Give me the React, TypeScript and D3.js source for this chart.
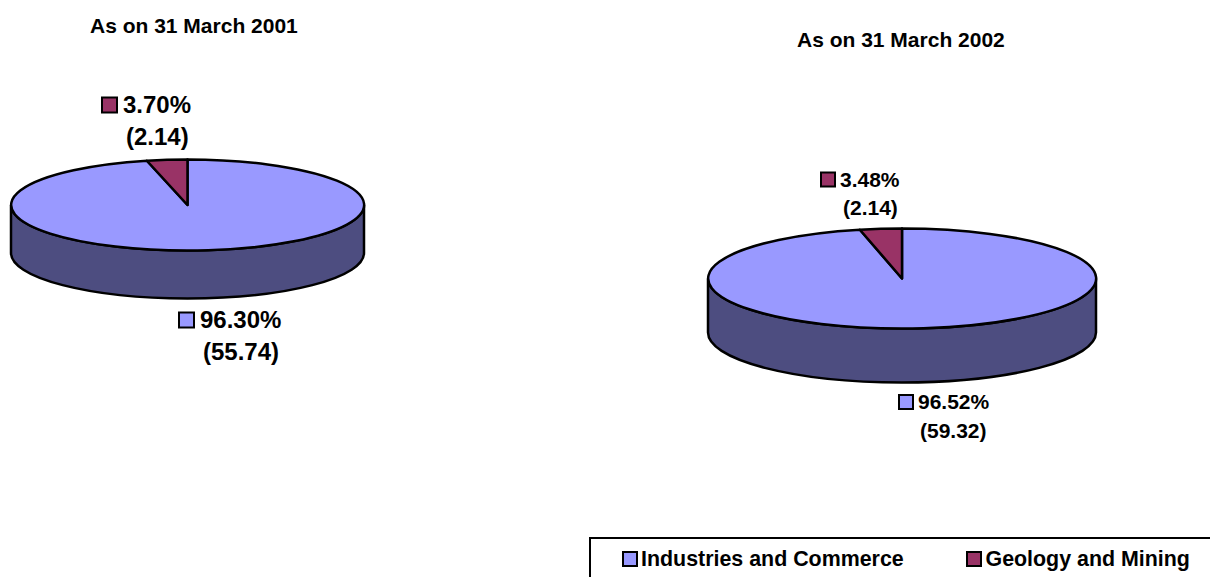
import * as d3 from "d3";

const categories = ["Industries and Commerce", "Geology and Mining"];
const colors = ["#9999FF", "#993366"];
const values2001 = [55.74, 2.14];
const values2002 = [59.32, 2.14];
const percents2001 = ["96.30%", "3.70%"];
const percents2002 = ["96.52%", "3.48%"];
const amounts2001 = ["(55.74)", "(2.14)"];
const amounts2002 = ["(59.32)", "(2.14)"];

const font = "'Liberation Sans', Arial, sans-serif";

const pieLayout = d3.pie<number>().sort(null).value((d) => d);
const unitArc = d3.arc<d3.PieArcDatum<number>>().innerRadius(0).outerRadius(1);

type LabelPos = { keyX: number; keyY: number; textX: number; y1: number; amountX: number; y2: number };

function Pie3D(props: {
  values: number[];
  percents: string[];
  amounts: string[];
  cx: number;
  cy: number;
  rx: number;
  ry: number;
  depth: number;
  fontSize: number;
  keySize: number;
  title: string;
  titleX: number;
  titleY: number;
  labels: LabelPos[];
}) {
  const { values, percents, amounts, cx, cy, rx, ry, depth, fontSize, keySize, title, titleX, titleY, labels } = props;
  const slices = pieLayout(values);
  const side = `M${cx - rx},${cy} A${rx},${ry} 0 0 0 ${cx + rx},${cy} L${cx + rx},${cy + depth} A${rx},${ry} 0 0 1 ${cx - rx},${cy + depth} Z`;

  return (
    <g fontFamily={font} fontWeight="bold" fill="#000">
      <text x={titleX} y={titleY} fontSize={21}>{title}</text>
      <path d={side} fill="#4D4D80" stroke="#000" strokeWidth={2.5} />
      {slices.map((s, i) => (
        <path
          key={i}
          d={unitArc(s) ?? ""}
          transform={`translate(${cx},${cy}) scale(${rx},${ry})`}
          fill={colors[i]}
          stroke="#000"
          strokeWidth={2.5}
          vectorEffect="non-scaling-stroke"
          strokeLinejoin="round"
        />
      ))}
      {labels.map((l, i) => (
        <g key={i}>
          <rect x={l.keyX} y={l.keyY} width={keySize} height={keySize} fill={colors[i]} stroke="#000" strokeWidth={2} />
          <text x={l.textX} y={l.y1} fontSize={fontSize}>{percents[i]}</text>
          <text x={l.amountX} y={l.y2} fontSize={fontSize}>{amounts[i]}</text>
        </g>
      ))}
    </g>
  );
}

export default function App() {
  return (
    <svg width={1210} height={577} style={{ position: "absolute", left: 0, top: 0 }}>
      <Pie3D
        values={values2001}
        percents={percents2001}
        amounts={amounts2001}
        cx={187.5}
        cy={205}
        rx={176.5}
        ry={45.5}
        depth={48}
        fontSize={24}
        keySize={15}
        title="As on 31 March 2001"
        titleX={90}
        titleY={32.5}
        labels={[
          { keyX: 179, keyY: 312.5, textX: 200, y1: 328, amountX: 203, y2: 360 },
          { keyX: 102, keyY: 97.5, textX: 123, y1: 113, amountX: 126, y2: 145 },
        ]}
      />
      <Pie3D
        values={values2002}
        percents={percents2002}
        amounts={amounts2002}
        cx={902}
        cy={278.5}
        rx={194}
        ry={50}
        depth={54}
        fontSize={21}
        keySize={14}
        title="As on 31 March 2002"
        titleX={797}
        titleY={46.5}
        labels={[
          { keyX: 899, keyY: 395, textX: 918, y1: 409, amountX: 920, y2: 438 },
          { keyX: 821, keyY: 172.5, textX: 840, y1: 187, amountX: 843, y2: 215 },
        ]}
      />
      <g fontFamily={font} fontWeight="bold">
        <rect x={590} y={538} width={700} height={100} fill="none" stroke="#000" strokeWidth={2} />
        {categories.map((c, i) => (
          <g key={c}>
            <rect x={i === 0 ? 623 : 967} y={552} width={14} height={14} fill={colors[i]} stroke="#000" strokeWidth={2} />
            <text x={i === 0 ? 641 : 985.5} y={565.5} fontSize={21.4}>{c}</text>
          </g>
        ))}
      </g>
    </svg>
  );
}
